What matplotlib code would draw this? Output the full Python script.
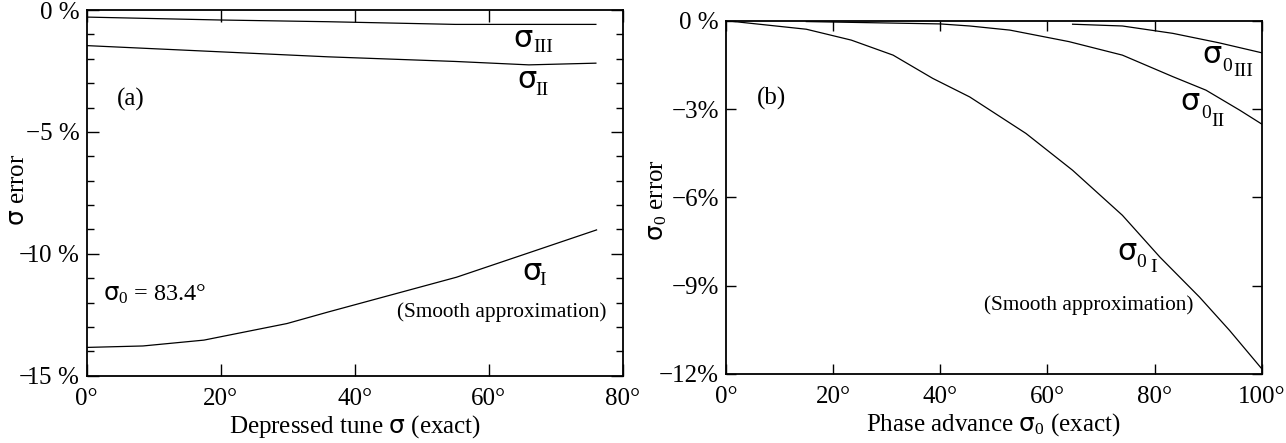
import matplotlib
matplotlib.use("Agg")
import matplotlib.pyplot as plt
from matplotlib.ticker import MultipleLocator

plt.rcParams['font.family'] = ['Liberation Serif', 'DejaVu Serif']
plt.rcParams['mathtext.fontset'] = 'custom'
plt.rcParams['mathtext.rm'] = 'Liberation Serif'
plt.rcParams['mathtext.it'] = 'Liberation Serif:italic'
plt.rcParams['mathtext.sf'] = 'DejaVu Sans'

# ---- Panel (a): depressed tune error vs depressed tune sigma ----
a_III_x = [0, 20, 36, 55, 66, 76]
a_III_y = [-0.29, -0.41, -0.48, -0.59, -0.59, -0.59]
a_II_x = [0, 36, 55, 66, 76]
a_II_y = [-1.46, -1.92, -2.11, -2.25, -2.18]
a_I_x = [0, 8.4, 17.5, 29.9, 36, 55.2, 66.2, 76.1]
a_I_y = [-13.84, -13.78, -13.54, -12.86, -12.39, -10.96, -9.94, -9.02]
a_xticks = [0, 20, 40, 60, 80]
a_yticks = [0, -5, -10, -15]
a_yticklabels = ['0 %', '\u22125 %', r'$-\!\!$10 %', r'$-\!\!$15 %']

# ---- Panel (b): phase advance error vs phase advance sigma0 ----
b_I_x = [0, 15, 23.4, 31.2, 38.6, 45.5, 56, 64.7, 74, 81, 88.4, 94, 100]
b_I_y = [0.0, -0.29, -0.66, -1.17, -1.96, -2.59, -3.83, -5.08, -6.61, -8.03, -9.39, -10.52, -11.82]
b_II_x = [15, 40, 45.5, 53, 64, 74, 83.4, 89.6, 95.9, 100]
b_II_y = [-0.03, -0.11, -0.18, -0.32, -0.71, -1.17, -1.90, -2.36, -3.04, -3.51]
b_III_x = [64.7, 74, 83.4, 92, 100]
b_III_y = [-0.12, -0.18, -0.43, -0.75, -1.09]
b_xticks = [0, 20, 40, 60, 80, 100]
b_yticks = [0, -3, -6, -9, -12]
b_yticklabels = ['0 %', '\u22123%', '\u22126%', '\u22129%', '\u221212%']

SIG = r'$\mathsf{σ}$'

fig = plt.figure(figsize=(12.86, 4.43), dpi=100)
axA = fig.add_axes([0.0674, 0.1519, 0.4168, 0.8255])
axB = fig.add_axes([0.5645, 0.1558, 0.4166, 0.7975])

TICK_FS = 18
LBL_FS = 18


def curve_label(ax, x, y, parts, sig_fs=22, sub_fs=14):
    """Sigma at (x, y) baseline-left, followed by subscript pieces given as
    (text, dx_px, dy_px) offsets from the sigma anchor."""
    ax.text(x, y, SIG, fontsize=sig_fs, ha='left', va='baseline')
    for txt, dx, dy in parts:
        ax.annotate(txt, xy=(x, y), xytext=(dx * 0.72, dy * 0.72),
                    textcoords='offset points', fontsize=sub_fs,
                    ha='left', va='baseline')


lw = 0.9
axA.plot(a_III_x, a_III_y, color='black', lw=lw)
axA.plot(a_II_x, a_II_y, color='black', lw=lw)
axA.plot(a_I_x, a_I_y, color='black', lw=lw)
axA.set_xlim(0, 80)
axA.set_ylim(-15, 0)
axA.set_xticks(a_xticks)
axA.set_xticklabels([f'{v}\u00b0' for v in a_xticks])
axA.set_yticks(a_yticks)
axA.set_yticklabels(a_yticklabels)
axA.yaxis.set_minor_locator(MultipleLocator(1))
axA.tick_params(which='major', direction='in', length=8.5, width=1, top=True, right=True,
                labelsize=TICK_FS)
axA.tick_params(axis='x', pad=9)
axA.tick_params(axis='y', pad=5)
axA.tick_params(which='minor', direction='in', length=5, width=1, left=True, right=True)
axA.set_xlabel('Depressed tune ' + SIG + ' (exact)', fontsize=LBL_FS, labelpad=2)
axA.set_ylabel(SIG + ' error', fontsize=LBL_FS)
axA.yaxis.set_label_coords(-0.107, 0.508)

curve_label(axA, 63.6, -1.50, [('III', 20, -5)])
curve_label(axA, 64.2, -3.20, [('II', 18, -7)])
curve_label(axA, 64.9, -11.09, [('I', 18, -5)])
axA.text(62.0, -12.4, '(Smooth approximation)', fontsize=15.3, ha='center', va='center')
axA.text(4.5, -3.67, '(a)', fontsize=18, ha='left', va='center')
axA.text(2.4, -11.91, SIG + '$_0$ = 83.4°', fontsize=17.5, ha='left', va='baseline')

axB.plot(b_I_x, b_I_y, color='black', lw=lw)
axB.plot(b_II_x, b_II_y, color='black', lw=lw)
axB.plot(b_III_x, b_III_y, color='black', lw=lw)
axB.set_xlim(0, 100)
axB.set_ylim(-12, 0)
axB.set_xticks(b_xticks)
axB.set_xticklabels([f'{v}\u00b0' for v in b_xticks])
axB.set_yticks(b_yticks)
axB.set_yticklabels(b_yticklabels)
axB.tick_params(which='major', direction='in', length=7.5, width=1, top=True, right=True,
                labelsize=TICK_FS)
axB.tick_params(axis='x', pad=9)
axB.tick_params(axis='y', pad=5)
axB.set_xlabel('Phase advance ' + SIG + '$_0$ (exact)', fontsize=LBL_FS, labelpad=2)
axB.set_ylabel(SIG + '$_0$ error', fontsize=LBL_FS)
axB.yaxis.set_label_coords(-0.107, 0.4925)

curve_label(axB, 88.8, -1.44, [('0', 21, -8), ('III', 31.5, -13)])
curve_label(axB, 84.7, -3.04, [('0', 21.7, -8), ('II', 31.7, -16)])
curve_label(axB, 72.9, -8.13, [('0', 20, -6.7), ('I', 33.3, -11.7)])
axB.text(67.8, -9.66, '(Smooth approximation)', fontsize=15.3, ha='center', va='center')
axB.text(5.7, -2.63, '(b)', fontsize=18, ha='left', va='center')

for ax in (axA, axB):
    for s in ax.spines.values():
        s.set_linewidth(1.3)

fig.savefig('out.png', dpi=100)
